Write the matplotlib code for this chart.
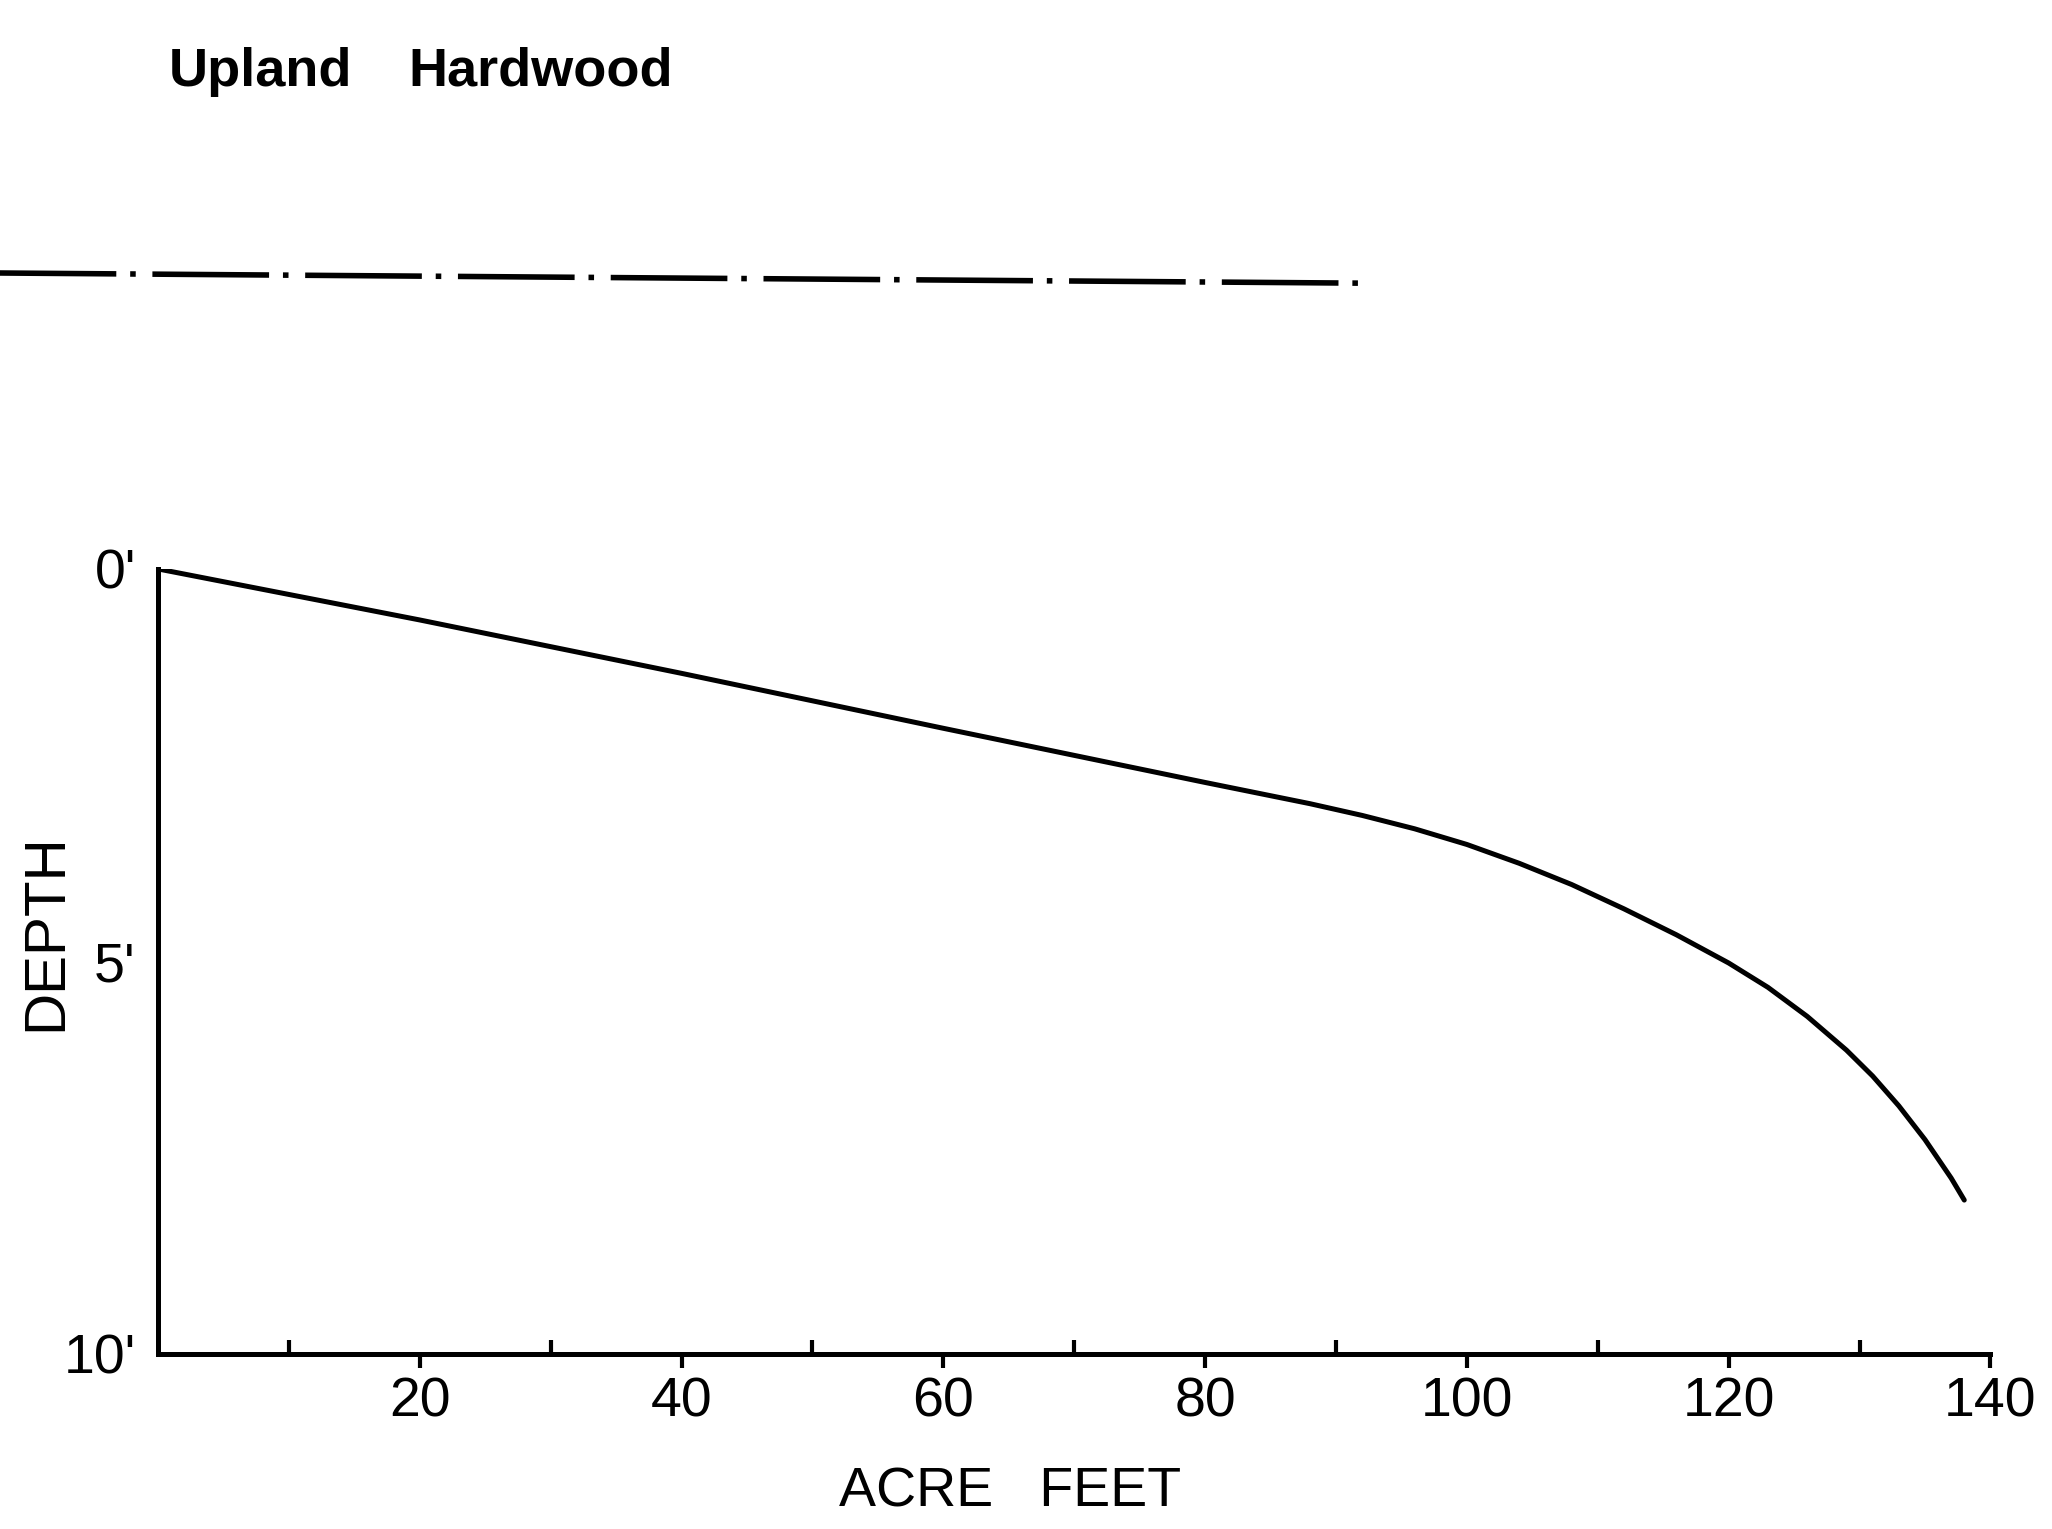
import numpy as np
import matplotlib
matplotlib.use("Agg")
import matplotlib.pyplot as plt

# storage curve (acre feet vs depth in feet)
acre_feet = [0, 20, 40, 60, 80, 88, 92, 96, 100, 104, 108, 112, 116, 120,
             123, 126, 129, 131, 133, 135, 137, 138]
depth_ft = [0, 0.65, 1.33, 2.03, 2.72, 2.99, 3.14, 3.31, 3.51, 3.75, 4.02, 4.33, 4.66, 5.02,
            5.33, 5.70, 6.13, 6.46, 6.84, 7.27, 7.76, 8.04]

# dash-dot water level line above the plot
water_x = [-12.1, 92.4]
water_depth = [-3.77, -3.64]

xticks = [20, 40, 60, 80, 100, 120, 140]
xminor = [10, 30, 50, 70, 90, 110, 130, 140]
yticks = [0, 5, 10]
ylabels = ["0'", "5'", "10'"]

plt.rcParams['font.family'] = ['Liberation Sans', 'DejaVu Sans']

fig = plt.figure(figsize=(20.52, 15.29), dpi=100)
ax = fig.add_axes([0.077, 0.1145, 0.893, 0.5134])

ax.plot(acre_feet, depth_ft, color='black', lw=3.6, solid_capstyle='round',
        solid_joinstyle='round')

wl, = ax.plot(water_x, water_depth, color='black', lw=4, clip_on=False)
wl.set_dashes([21, 2.5, 1.0, 3.0])

ax.set_xlim(0, 140)
ax.set_ylim(10, 0)

for s in ['top', 'right']:
    ax.spines[s].set_visible(False)
for s in ['left', 'bottom']:
    ax.spines[s].set_linewidth(3.6)

ax.set_xticks(xticks)
ax.set_xticks(xminor, minor=True)
ax.set_yticks(yticks)
ax.set_yticklabels(ylabels)
ax.tick_params(axis='x', which='major', direction='out', length=10, width=3, labelsize=40, pad=6)
ax.tick_params(axis='x', which='minor', direction='in', length=10, width=3)
ax.tick_params(axis='y', length=0, labelsize=40, pad=16)

fig.text(0.4922, 0.0144, 'ACRE   FEET', fontsize=40, ha='center', va='baseline')
fig.text(0.0224, 0.3904, 'DEPTH', fontsize=42, rotation=90, ha='center', va='center')

fig.text(0.082, 0.944, 'Upland', fontsize=39, fontweight='bold', va='baseline')
fig.text(0.199, 0.944, 'Hardwood', fontsize=39, fontweight='bold', va='baseline')

fig.savefig('out.png', dpi=100)
